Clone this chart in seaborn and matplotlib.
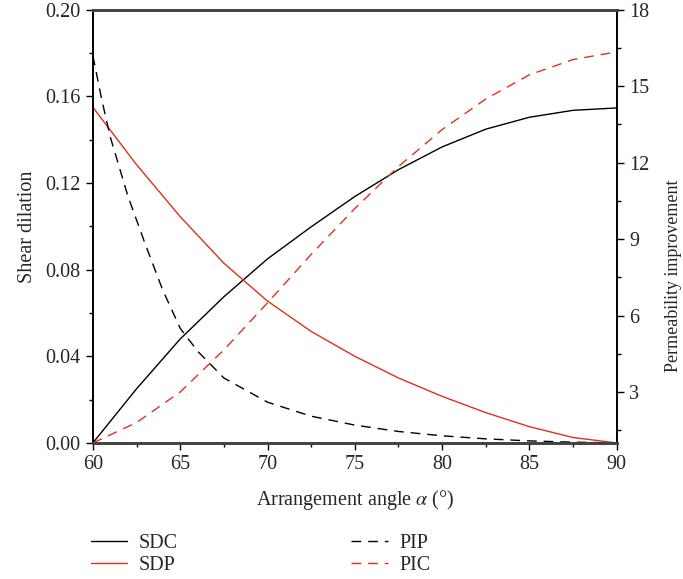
import numpy as np
import pandas as pd
import matplotlib
matplotlib.use("Agg")
import matplotlib.pyplot as plt
import seaborn as sns
from matplotlib.ticker import MultipleLocator

# values
angle = [60, 62.5, 65, 67.5, 70, 72.5, 75, 77.5, 80, 82.5, 85, 87.5, 90]
sdc = [0.0, 0.025, 0.048, 0.0675, 0.085, 0.0998, 0.1138, 0.1262, 0.1367, 0.1449, 0.1504, 0.1536, 0.1547]
sdp = [0.155, 0.1285, 0.1045, 0.083, 0.0655, 0.0515, 0.040, 0.030, 0.0215, 0.014, 0.0075, 0.0025, 0.0]

pip_angle = [60, 60.5, 61, 62, 63, 64, 65, 66, 67.5, 70, 72.5, 75, 77.5, 80, 82.5, 85, 87.5, 90]
pip = [16.2, 14.5, 13.0, 10.7, 8.8, 7.0, 5.5, 4.6, 3.55, 2.6, 2.05, 1.7, 1.45, 1.28, 1.16, 1.08, 1.03, 1.0]

pic_angle = [60, 62.5, 65, 67.5, 70, 72.5, 75, 77.5, 80, 82.5, 85, 87.5, 90]
pic = [1.0, 1.8, 3.0, 4.65, 6.5, 8.4, 10.2, 11.85, 13.3, 14.5, 15.45, 16.05, 16.35]

sns.set_style("white")
plt.rcParams['font.family'] = ['Liberation Serif', 'DejaVu Serif']
plt.rcParams['font.size'] = 14.5
plt.rcParams['mathtext.fontset'] = 'stix'

red = "#e0301e"
dash = (0, (7, 5))
fig = plt.figure(figsize=(6.83, 5.79), dpi=100)
ax = fig.add_axes([0.136, 0.235, 0.767, 0.748])
ax2 = ax.twinx()

sns.lineplot(x=angle, y=sdc, ax=ax, color="black", lw=1.0, label="SDC", legend=False)
sns.lineplot(x=angle, y=sdp, ax=ax, color=red, lw=1.0, label="SDP", legend=False)
sns.lineplot(x=pip_angle, y=pip, ax=ax2, color="black", lw=1.0, ls=dash, label="PIP", legend=False)
sns.lineplot(x=pic_angle, y=pic, ax=ax2, color=red, lw=1.0, ls=dash, label="PIC", legend=False)

ax.set_xlim(60, 90)
ax.set_ylim(0, 0.20)
ax2.set_ylim(1, 18)
ax.set_xticks([60, 65, 70, 75, 80, 85, 90])
ax.xaxis.set_minor_locator(MultipleLocator(2.5))
ax.set_yticks([0, 0.04, 0.08, 0.12, 0.16, 0.20])
ax.set_yticklabels(["0.00", "0.04", "0.08", "0.12", "0.16", "0.20"])
ax.yaxis.set_minor_locator(MultipleLocator(0.02))
ax2.set_yticks([3, 6, 9, 12, 15, 18])
ax2.yaxis.set_minor_locator(MultipleLocator(1.5))

for a in (ax, ax2):
    a.tick_params(which="major", direction="out", length=5, width=1, color="black", pad=4)
    a.tick_params(which="minor", direction="out", length=3, width=1, color="black")
    for s in ("left", "right"):
        a.spines[s].set_color("black")
        a.spines[s].set_linewidth(1.2)
    for s in ("top", "bottom"):
        a.spines[s].set_color("#444444")
        a.spines[s].set_linewidth(2.0)
ax.tick_params(axis="both", which="both", left=True, bottom=True)
ax2.tick_params(axis="y", which="both", right=True)

ax.set_xlabel(r"Arrangement angle $\alpha$ (°)", labelpad=10)
ax.set_ylabel("Shear dilation", labelpad=6)
ax2.set_ylabel("Permeability improvement", fontsize=13)
ax2.yaxis.set_label_coords(1.093, 0.385)

h1, l1 = ax.get_legend_handles_labels()
h2, l2 = ax2.get_legend_handles_labels()
fig.legend(h1 + h2, l1 + l2, loc="upper left", bbox_to_anchor=(0.118, 0.095), ncol=2,
           frameon=False, handlelength=1.8, columnspacing=8.6, labelspacing=0.15,
           handletextpad=0.6, fontsize=14.5, borderpad=0)

fig.savefig("out.png", dpi=100)
